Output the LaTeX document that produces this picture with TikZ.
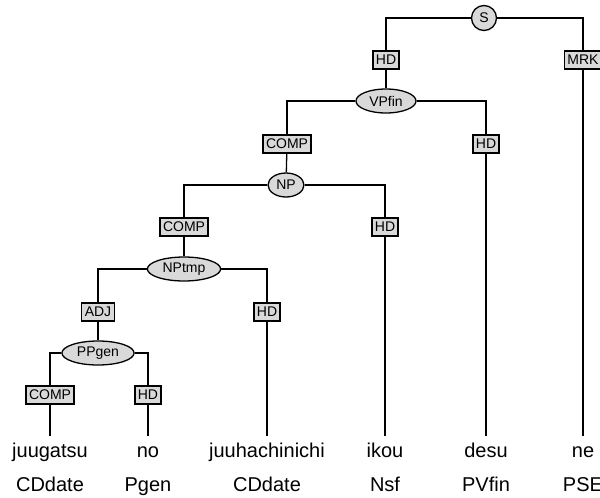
\documentclass[tikz,border=0pt]{standalone}
\usepackage{fontspec}
\setmainfont{Liberation Sans}
\usetikzlibrary{shapes.geometric}
\begin{document}
\begin{tikzpicture}[x=1pt,y=-1pt,line width=1.3pt,
  lbl/.style={draw,fill=gray!30,rectangle,inner xsep=3pt,inner ysep=0pt,minimum height=18pt,font=\fontsize{14}{16}\selectfont},
  cat/.style={draw,fill=gray!30,ellipse,inner xsep=4.5pt,inner ysep=1pt,minimum height=24pt,font=\fontsize{14}{16}\selectfont},
  word/.style={anchor=base,inner sep=0pt,font=\fontsize{20}{24}\selectfont}]
\useasboundingbox (0,0) rectangle (600,498);
% nodes
\node[draw,fill=gray!30,circle,minimum size=25pt,inner sep=0pt,font=\fontsize{14}{16}\selectfont] (S) at (484,18) {S};
\node[lbl] (hdS) at (386,60) {HD};
\node[lbl] (mrk) at (583,60) {MRK};
\node[cat] (VP) at (386,101) {VPfin};
\node[lbl] (compVP) at (287,144) {COMP};
\node[lbl] (hdVP) at (486,144) {HD};
\node[cat,minimum width=36pt,inner xsep=2pt] (NP) at (286,185) {NP};
\node[lbl] (compNP) at (184,227) {COMP};
\node[lbl] (hdNP) at (385,227) {HD};
\node[cat] (NPt) at (184,269) {NPtmp};
\node[lbl] (adj) at (98,312) {ADJ};
\node[lbl] (hdNPt) at (267,312) {HD};
\node[cat] (PP) at (98,353) {PPgen};
\node[lbl] (compPP) at (50,395) {COMP};
\node[lbl] (hdPP) at (148,395) {HD};
% leaf ends
\coordinate (e1) at (50,436);
\coordinate (e2) at (148,436);
\coordinate (e3) at (267,436);
\coordinate (e4) at (385,436);
\coordinate (e5) at (486,436);
\coordinate (e6) at (583,436);
% words
\node[word] (w1) at (50,457) {juugatsu};
\node[word] (w2) at (148,457) {no};
\node[word] (w3) at (267,457) {juuhachinichi};
\node[word] (w4) at (385,457) {ikou};
\node[word] (w5) at (486,457) {desu};
\node[word] (w6) at (583,457) {ne};
\node[word] (c1) at (50,491) {CDdate};
\node[word] (c2) at (148,491) {Pgen};
\node[word] (c3) at (267,491) {CDdate};
\node[word] (c4) at (385,491) {Nsf};
\node[word] (c5) at (486,491) {PVfin};
\node[word] (c6) at (583,491) {PSE};
% connectors
\draw (S) -| (hdS);
\draw (S) -| (mrk);
\draw (hdS) -- (VP);
\draw (mrk) -- (e6);
\draw (VP) -| (compVP);
\draw (VP) -| (hdVP);
\draw (compVP) -- (NP);
\draw (hdVP) -- (e5);
\draw (NP) -| (compNP);
\draw (NP) -| (hdNP);
\draw (compNP) -- (NPt);
\draw (hdNP) -- (e4);
\draw (NPt) -| (adj);
\draw (NPt) -| (hdNPt);
\draw (adj) -- (PP);
\draw (hdNPt) -- (e3);
\draw (PP) -| (compPP);
\draw (PP) -| (hdPP);
\draw (compPP) -- (e1);
\draw (hdPP) -- (e2);
\end{tikzpicture}
\end{document}
